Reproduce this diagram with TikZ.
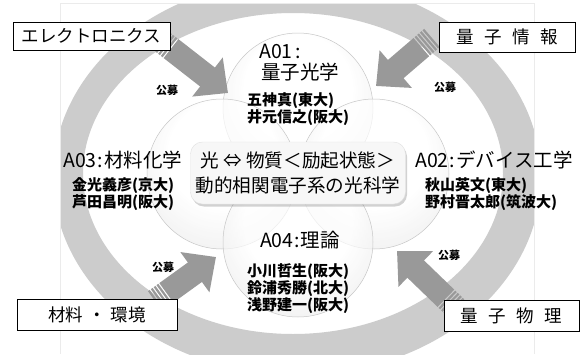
\documentclass[tikz,border=0pt]{standalone}
\usepackage{fontspec}
\newfontfamily\jp{Noto Sans CJK JP}
\usetikzlibrary{positioning, arrows.meta, calc, shadows}

\definecolor{ringgray}{gray}{0.80}
\definecolor{arrowgray}{gray}{0.60}
\pgfdeclareradialshading{bubble}{\pgfpoint{0bp}{10bp}}{color(0bp)=(white); color(18bp)=(white); color(34bp)=(black!9); color(50bp)=(black!26)}

\begin{document}
\begin{tikzpicture}[x=1pt, y=-1pt]
	\tikzset{
		fieldbox/.style={draw=black, line width=1pt, fill=white, inner sep=0pt, font=\jp\fontsize{17.5}{17.5}\selectfont},
		bubble/.style={circle, minimum size=150pt, inner sep=0pt, shading=bubble, fill opacity=.7, draw=black!22, line width=.5pt},
		title/.style={inner sep=0pt, font=\jp\fontsize{19.5}{20}\selectfont},
		member/.style={inner sep=0pt, align=left, font=\jp\bfseries\fontsize{15}{17}\selectfont},
		koubo/.style={inner sep=0pt, font=\jp\bfseries\fontsize{11}{11}\selectfont},
		feed/.style={line width=24pt, arrowgray, -{Triangle[length=26pt, width=48pt]}},
		stripe/.style={line width=24pt, arrowgray, dash pattern=on 2.2pt off 1.3pt}
	}
	\useasboundingbox (0,0) rectangle (584,354);
	\fill[white] (0,0) rectangle (584,354);
	
	% ring, cut by the frame
	\begin{scope}
		\clip (60,3) rectangle (534,354);
		\fill[ringgray, even odd rule] (297,177) ellipse [x radius=244, y radius=198]
			(293,173.5) ellipse [x radius=210, y radius=160.5];
	\end{scope}
	\draw[black!8] (60,354) -- (60,3) -- (534,3) -- (534,354);
	
	% four areas
	\node[bubble] (a01) at (298,108) {};
	\node[bubble] (a03) at (222,174) {};
	\node[bubble] (a02) at (374,174) {};
	\node[bubble] (a04) at (298,242) {};
	
	% incoming arrows
	\coordinate (ulTail) at (160,40);  \coordinate (ulTip) at (228,93);
	\coordinate (urTail) at (432,38);  \coordinate (urTip) at (376,86);
	\coordinate (llTail) at (155,301); \coordinate (llTip) at (216,257);
	\coordinate (lrTail) at (456,308); \coordinate (lrTip) at (397,251);
	\foreach \a in {ul,ur,ll,lr} {
		\draw[stripe] (\a Tail) -- ($(\a Tail)!14pt!(\a Tip)$);
		\draw[feed] ($(\a Tail)!14pt!(\a Tip)$) -- (\a Tip);
	}
	
	% center
	\node[draw=black!12, fill=black!3, rounded corners=12pt, minimum width=215pt, minimum height=62pt,
		drop shadow={shadow xshift=1.5pt, shadow yshift=-2.5pt, opacity=.35},
		align=center, font=\jp\fontsize{18.6}{25}\selectfont] (core) at (298,173)
		{光 ⇔ 物質＜励起状態＞\\動的相関電子系の光科学};
	
	% labels
	\node[title, anchor=west] (a01no) at (259,51) {A01\,:};
	\node[title] (a01name) at (300,72) {量子光学};
	\node[member, anchor=west] (a01mem) at (247,109.5) {五神真(東大)\\井元信之(阪大)};
	\node[title, anchor=west] (a03name) at (63,160) {A03\kern1pt:\kern1pt材料化学};
	\node[member, anchor=west] (a03mem) at (72,194.5) {金光義彦(京大)\\芦田昌明(阪大)};
	\node[title, anchor=west] (a02name) at (415,160) {A02\kern1pt:\kern1ptデバイス工学};
	\node[member, anchor=west] (a02mem) at (425,194.5) {秋山英文(東大)\\野村晋太郎(筑波大)};
	\node[title] (a04name) at (300,240) {A04\kern1pt:\kern1pt理論};
	\node[member, anchor=west] (a04mem) at (247,289) {小川哲生(阪大)\\鈴浦秀勝(北大)\\浅野建一(阪大)};
	
	% fields
	\node[fieldbox, minimum width=157pt, minimum height=28pt] (elec) at (91.5,36) {エレクトロニクス};
	\node[fieldbox, minimum width=136pt, minimum height=30pt] (qinfo) at (507,37) {量\hspace{0.6em}子\hspace{0.6em}情\hspace{0.6em}報};
	\node[fieldbox, minimum width=160pt, minimum height=31pt] (matenv) at (97,314.5) {材料\hspace{0.3em}・\hspace{0.3em}環境};
	\node[fieldbox, minimum width=135pt, minimum height=31pt] (qphys) at (511.5,315.5) {量\hspace{0.6em}子\hspace{0.6em}物\hspace{0.6em}理};
	
	\node[koubo] (k1) at (167,90) {公募};
	\node[koubo] (k2) at (445,87) {公募};
	\node[koubo] (k3) at (163,267) {公募};
	\node[koubo] (k4) at (449,255) {公募};
\end{tikzpicture}
\end{document}
